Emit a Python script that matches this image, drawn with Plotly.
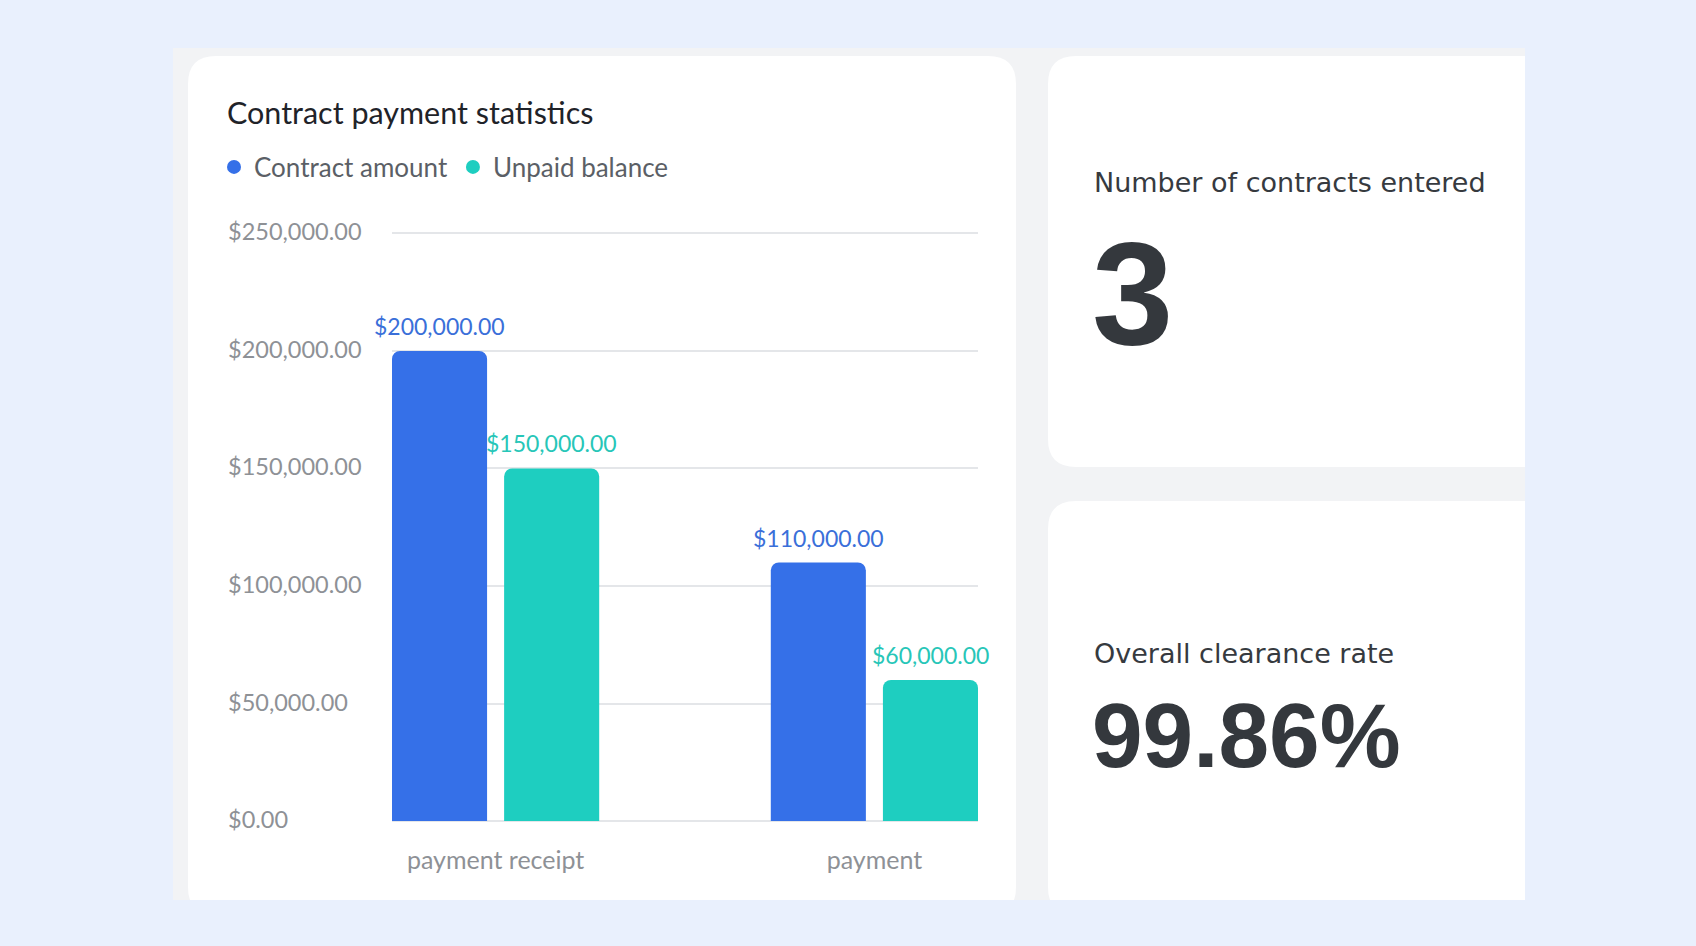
import plotly.graph_objects as go

W, H = 1696, 946

categories = ["payment receipt", "payment"]
contract_amount = [200000, 110000]
unpaid_balance = [150000, 60000]
y_ticks = [0, 50000, 100000, 150000, 200000, 250000]

contracts_entered = 3
clearance_rate = 99.86

BLUE = "#3570e8"
TEAL = "#1ecec0"
BAR_W = 0.251
OFFSETS = [-0.2735, 0.0225]
Y_MAX = 251500  # a little headroom so the 250k gridline is drawn


def px(x):
    return x / W


def py(y):
    return 1 - y / H


def rrect(x0, y0, x1, y1, r, color):
    rx, ry = r / W, r / H
    X0, X1 = px(x0), px(x1)
    Yt, Yb = py(y0), py(y1)
    path = (f"M {X0+rx},{Yt} L {X1-rx},{Yt} Q {X1},{Yt} {X1},{Yt-ry} "
            f"L {X1},{Yb+ry} Q {X1},{Yb} {X1-rx},{Yb} L {X0+rx},{Yb} "
            f"Q {X0},{Yb} {X0},{Yb+ry} L {X0},{Yt-ry} Q {X0},{Yt} {X0+rx},{Yt} Z")
    return dict(type="path", path=path, xref="paper", yref="paper",
                fillcolor=color, line=dict(width=0), layer="below")


def rect(x0, y0, x1, y1, color):
    return dict(type="rect", xref="paper", yref="paper", x0=px(x0), x1=px(x1),
                y0=py(y1), y1=py(y0), fillcolor=color, line=dict(width=0), layer="below")


fig = go.Figure()

names = ["Contract amount", "Unpaid balance"]
series = [contract_amount, unpaid_balance]
colors = [BLUE, TEAL]
for name, vals, col, off in zip(names, series, colors, OFFSETS):
    fig.add_trace(go.Bar(x=categories, y=vals, name=name, width=BAR_W, offset=off,
                         marker=dict(color=col, cornerradius=8, line=dict(width=0)),
                         showlegend=False, hoverinfo="skip"))
    # legend entry with round dot
    fig.add_trace(go.Scatter(x=[None], y=[None], mode="markers", name=name,
                             marker=dict(color=col, size=14)))

# page background, grey panel, white cards (cards run past the panel and get cut off)
shapes = [
    rect(173, 48, 1525, 900, "#f2f3f5"),
    rrect(188, 56, 1016, 915, 28, "white"),
    rrect(1048, 56, 1560, 467, 28, "white"),
    rrect(1048, 501, 1560, 915, 28, "white"),
    rect(1525, 0, W, H, "#e9f0fd"),
    rect(0, 900, W, H, "#e9f0fd"),
]

ann = []
# title
ann.append(dict(text="Contract payment statistics", xref="paper", yref="paper",
                x=px(225), y=py(112), xanchor="left", yanchor="middle", showarrow=False,
                font=dict(family="Lato", size=30.5, color="#1f2329")))
# y tick labels, left aligned
for v in y_ticks:
    ann.append(dict(text=f"${v:,.2f}", xref="paper", yref="y", x=px(226), y=v,
                    xanchor="left", yanchor="middle", yshift=2, showarrow=False,
                    font=dict(family="Lato", size=23.5, color="#8e9196")))
# value labels over bars
label_colors = ["#3a6fd9", "#27c6b8"]
for vals, off, col in zip(series, OFFSETS, label_colors):
    for i, v in enumerate(vals):
        ann.append(dict(text=f"${v:,.2f}", xref="x", yref="y", x=i + off + BAR_W / 2, y=v,
                        xanchor="center", yanchor="middle", yshift=25, showarrow=False,
                        font=dict(family="Lato", size=23, color=col)))
# KPI cards
ann.append(dict(text="Number of contracts entered", xref="paper", yref="paper",
                x=px(1092), y=py(183), xanchor="left", yanchor="middle", showarrow=False,
                font=dict(family="DejaVu Sans", size=27, color="#363a3f")))
ann.append(dict(text=f"<b>{contracts_entered}</b>", xref="paper", yref="paper",
                x=px(1090), y=py(293), xanchor="left", yanchor="middle", showarrow=False,
                font=dict(family="Liberation Sans", size=146, color="#34383d")))
ann.append(dict(text="Overall clearance rate", xref="paper", yref="paper",
                x=px(1092), y=py(653), xanchor="left", yanchor="middle", showarrow=False,
                font=dict(family="DejaVu Sans", size=27, color="#363a3f")))
ann.append(dict(text=f"<b>{clearance_rate:.2f}%</b>", xref="paper", yref="paper",
                x=px(1090), y=py(735), xanchor="left", yanchor="middle", showarrow=False,
                font=dict(family="Liberation Sans", size=91, color="#34383d")))

fig.update_layout(
    width=W, height=H,
    margin=dict(l=0, r=0, t=0, b=0),
    paper_bgcolor="#e9f0fd",
    plot_bgcolor="rgba(0,0,0,0)",
    barmode="overlay",
    shapes=shapes,
    annotations=ann,
    showlegend=True,
    legend=dict(orientation="h", x=px(214), y=py(167), xanchor="left", yanchor="middle",
                bgcolor="rgba(0,0,0,0)", font=dict(family="Lato", size=26, color="#5b5f66"),
                itemclick=False, itemdoubleclick=False),
    xaxis=dict(domain=[px(392), px(978)], type="category", range=[-0.2735, 1.2735],
               showgrid=False, zeroline=False, showline=False, ticks="",
               ticklabelstandoff=22, fixedrange=True,
               tickfont=dict(family="Lato", size=25, color="#8e9196")),
    yaxis=dict(domain=[py(821), py(821 - 587.5 * Y_MAX / 250000)], range=[0, Y_MAX],
               tick0=0, dtick=50000,
               showticklabels=False, gridcolor="#e4e6e9", gridwidth=2,
               zeroline=True, zerolinecolor="#e4e6e9", zerolinewidth=2, fixedrange=True),
)

fig.write_html("out.html", config={"displayModeBar": False},
               post_script="document.body.style.margin='0';")
